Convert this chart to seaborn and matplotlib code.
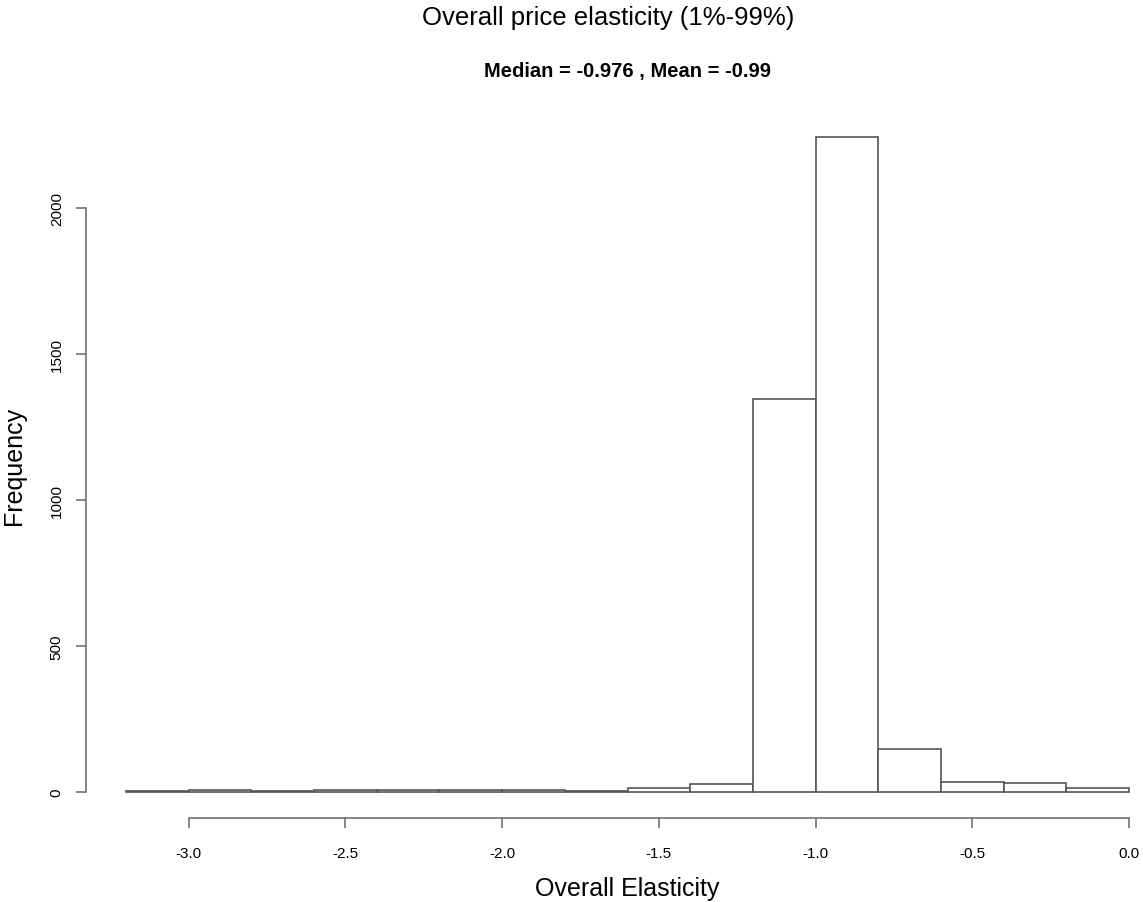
import numpy as np
import pandas as pd
import seaborn as sns
import matplotlib
matplotlib.use('Agg')
import matplotlib.pyplot as plt

# histogram counts, bins of width 0.2 from -3.2 to 0.0
bin_edges = [-3.2, -3.0, -2.8, -2.6, -2.4, -2.2, -2.0, -1.8, -1.6,
             -1.4, -1.2, -1.0, -0.8, -0.6, -0.4, -0.2, 0.0]
counts = [1, 7, 2, 5, 5, 6, 6, 3, 12, 26, 1346, 2243, 145, 35, 31, 12]
x_ticks = [-3.0, -2.5, -2.0, -1.5, -1.0, -0.5, 0.0]
y_ticks = [0, 500, 1000, 1500, 2000]

mids = [(bin_edges[i] + bin_edges[i + 1]) / 2 for i in range(len(counts))]
df = pd.DataFrame({'elasticity': mids, 'n': counts})

sns.set_style('white')
plt.rcParams['font.family'] = ['Liberation Sans', 'DejaVu Sans']
plt.rcParams['text.color'] = 'black'
plt.rcParams['axes.labelcolor'] = 'black'
plt.rcParams['xtick.color'] = 'black'
plt.rcParams['ytick.color'] = 'black'

fig = plt.figure(figsize=(11.43, 9.03), dpi=100)
ax = fig.add_axes([86 / 1143, 84 / 903, 1083 / 1143, 707 / 903])

sns.histplot(data=df, x='elasticity', weights='n', bins=bin_edges,
             color='white', edgecolor='#555555', linewidth=1.2, alpha=1, ax=ax)

ax.set_xlim(-3.328, 0.128)
ax.set_ylim(-90, 2333)

# R style axes: detached lines that only span the ticks
for side in ['top', 'right']:
    ax.spines[side].set_visible(False)
for side in ['left', 'bottom']:
    ax.spines[side].set_color('#666666')
    ax.spines[side].set_linewidth(1.1)
ax.spines['bottom'].set_bounds(-3.0, 0.0)
ax.spines['left'].set_bounds(0, 2000)

ax.set_xticks(x_ticks)
ax.set_xticklabels(['%.1f' % t for t in x_ticks])
ax.set_yticks(y_ticks)
ax.set_yticklabels([str(t) for t in y_ticks], rotation=90, va='center')
ax.tick_params(axis='both', direction='out', length=7, width=1.1,
               color='#666666', labelsize=11, bottom=True, left=True)
ax.tick_params(axis='x', pad=13)
ax.tick_params(axis='y', pad=9)

ax.set_xlabel('Overall Elasticity', fontsize=18, labelpad=12)
ax.set_ylabel('Frequency', fontsize=18, labelpad=17)

fig.text(608 / 1143, 1 - 18 / 903, 'Overall price elasticity (1%-99%)',
         ha='center', va='center', fontsize=18.5)
fig.text(627 / 1143, 1 - 72 / 903, 'Median = -0.976 , Mean = -0.99',
         ha='center', va='center', fontsize=14.5, fontweight='bold')

fig.savefig('out.png', dpi=100)
